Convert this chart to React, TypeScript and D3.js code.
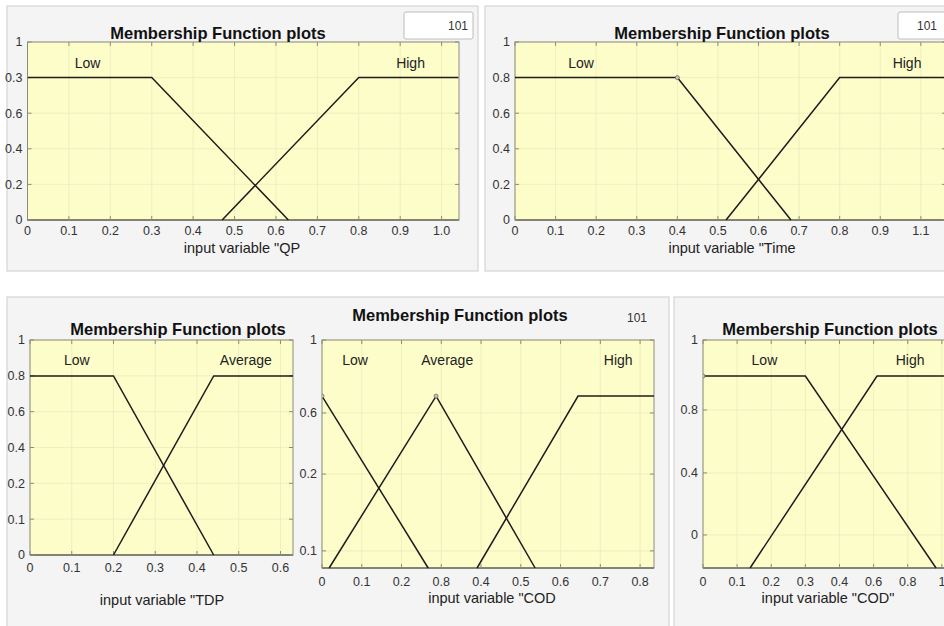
import React from "react";
import * as d3 from "d3";

// ---- data (x in axis-position units, y as fraction of axis height) ----
const qpXTickLabels = ["0", "0.1", "0.2", "0.3", "0.4", "0.5", "0.6", "0.7", "0.8", "0.9", "1.0"];
const qpYTickLabels = ["0", "0.2", "0.4", "0.6", "0.3", "1"];
const qpYTickPos = [0, 0.2, 0.4, 0.6, 0.8, 1];
const qpLow: [number, number][] = [[0, 0.8], [0.3, 0.8], [0.63, 0]];
const qpHigh: [number, number][] = [[0.47, 0], [0.8, 0.8], [1.04, 0.8]];

const timeXTickLabels = ["0", "0.1", "0.2", "0.3", "0.4", "0.5", "0.6", "0.7", "0.8", "0.9", "1.1"];
const timeYTickLabels = ["0", "0.2", "0.4", "0.6", "0.8", "1"];
const timeYTickPos = [0, 0.2, 0.4, 0.6, 0.8, 1];
const timeLow: [number, number][] = [[0, 0.8], [0.4, 0.8], [0.68, 0]];
const timeHigh: [number, number][] = [[0.52, 0], [0.8, 0.8], [1.08, 0.8]];

const tdpXTickLabels = ["0", "0.1", "0.2", "0.3", "0.4", "0.5", "0.6"];
const tdpYTickLabels = ["0", "0.1", "0.2", "0.4", "0.6", "0.8", "1"];
const tdpYTickPos = [0, 1 / 6, 2 / 6, 3 / 6, 4 / 6, 5 / 6, 1];
const tdpLow: [number, number][] = [[0, 0.833], [0.2, 0.833], [0.44, 0]];
const tdpAverage: [number, number][] = [[0.2, 0], [0.44, 0.833], [0.63, 0.833]];

const codXTickLabels = ["0", "0.1", "0.2", "0.8", "0.4", "0.5", "0.6", "0.7", "0.8"];
const codYTickLabels = ["0.1", "0.2", "0.6", "1"];
const codYTickPos = [0.075, 0.412, 0.68, 1];
const codLow: [number, number][] = [[0, 0.754], [0.267, 0]];
const codAverage: [number, number][] = [[0.018, 0], [0.287, 0.754], [0.536, 0]];
const codHigh: [number, number][] = [[0.39, 0], [0.644, 0.754], [0.835, 0.754]];

const cod2XTickLabels = ["0", "0.1", "0.2", "0.3", "0.4", "0.6", "0.8", "1"];
const cod2YTickLabels = ["0", "0.4", "0.8", "1"];
const cod2YTickPos = [0.145, 0.417, 0.693, 1];
const cod2Low: [number, number][] = [[0, 0.842], [0.3, 0.842], [0.683, 0]];
const cod2High: [number, number][] = [[0.138, 0], [0.51, 0.842], [0.74, 0.842]];

// ---- layout ----
const FONT = "'Liberation Sans', Arial, Helvetica, sans-serif";
const AX_FILL = "#fdfdca";
const AX_STROKE = "#8c8c7c";
const GRID = "#ebebbd";

type MF = { name: string; pts: [number, number][]; lx: number; markers?: number[] };
type Panel = {
  left: number; right: number; top: number; bottom: number;
  xMax: number; xTickLabels: string[];
  yTickPos: number[]; yTickLabels: string[];
  mfs: MF[];
  titleX: number; titleY: number;
  xlabel: string; xlabelX: number; xlabelY: number;
  tickLabelDy: number; mfLabelDy: number;
};

const panels: Panel[] = [
  {
    left: 27.5, right: 459, top: 42, bottom: 220, xMax: 1.042, xTickLabels: qpXTickLabels,
    yTickPos: qpYTickPos, yTickLabels: qpYTickLabels,
    mfs: [{ name: "Low", pts: qpLow, lx: 0.145 }, { name: "High", pts: qpHigh, lx: 0.925 }],
    titleX: 218, titleY: 39, xlabel: 'input variable "QP', xlabelX: 242, xlabelY: 253,
    tickLabelDy: 15, mfLabelDy: 26,
  },
  {
    left: 515, right: 946, top: 42, bottom: 220, xMax: 1.062, xTickLabels: timeXTickLabels,
    yTickPos: timeYTickPos, yTickLabels: timeYTickLabels,
    mfs: [{ name: "Low", pts: timeLow, lx: 0.163, markers: [1] }, { name: "High", pts: timeHigh, lx: 0.966 }],
    titleX: 722, titleY: 39, xlabel: 'input variable "Time', xlabelX: 732, xlabelY: 253,
    tickLabelDy: 15, mfLabelDy: 26,
  },
  {
    left: 30, right: 293, top: 340, bottom: 555, xMax: 0.63, xTickLabels: tdpXTickLabels,
    yTickPos: tdpYTickPos, yTickLabels: tdpYTickLabels,
    mfs: [{ name: "Low", pts: tdpLow, lx: 0.112 }, { name: "Average", pts: tdpAverage, lx: 0.517 }],
    titleX: 178, titleY: 335, xlabel: 'input variable "TDP', xlabelX: 162, xlabelY: 605,
    tickLabelDy: 17, mfLabelDy: 25,
  },
  {
    left: 322, right: 654, top: 340, bottom: 568, xMax: 0.835, xTickLabels: codXTickLabels,
    yTickPos: codYTickPos, yTickLabels: codYTickLabels,
    mfs: [
      { name: "Low", pts: codLow, lx: 0.083, markers: [0] },
      { name: "Average", pts: codAverage, lx: 0.315, markers: [1] },
      { name: "High", pts: codHigh, lx: 0.745 },
    ],
    titleX: 460, titleY: 321, xlabel: 'input variable "COD', xlabelX: 492, xlabelY: 603,
    tickLabelDy: 18, mfLabelDy: 25,
  },
  {
    left: 703, right: 948, top: 340, bottom: 568, xMax: 0.718, xTickLabels: cod2XTickLabels,
    yTickPos: cod2YTickPos, yTickLabels: cod2YTickLabels,
    mfs: [{ name: "Low", pts: cod2Low, lx: 0.18, markers: [0] }, { name: "High", pts: cod2High, lx: 0.607 }],
    titleX: 830, titleY: 335, xlabel: 'input variable "COD"', xlabelX: 828, xlabelY: 603,
    tickLabelDy: 18, mfLabelDy: 25,
  },
];

function Axes({ p, idx }: { p: Panel; idx: number }) {
  const x = d3.scaleLinear().domain([0, p.xMax]).range([p.left, p.right]);
  const y = d3.scaleLinear().domain([0, 1]).range([p.bottom, p.top]);
  const line = d3.line<[number, number]>().x((d) => x(d[0])).y((d) => y(d[1]));
  const xTicks = p.xTickLabels.map((_, i) => i / 10);
  const clipId = `clip-${idx}`;
  return (
    <g>
      <defs>
        <clipPath id={clipId}>
          <rect x={p.left} y={p.top - 3} width={p.right - p.left} height={p.bottom - p.top + 4} />
        </clipPath>
      </defs>
      <rect x={p.left} y={p.top} width={p.right - p.left} height={p.bottom - p.top} fill={AX_FILL} />
      {xTicks.map((t, i) => (
        <line key={`gx${i}`} x1={x(t)} x2={x(t)} y1={p.top} y2={p.bottom} stroke={GRID} strokeWidth={0.8} />
      ))}
      {p.yTickPos.map((t, i) => (
        <line key={`gy${i}`} x1={p.left} x2={p.right} y1={y(t)} y2={y(t)} stroke={GRID} strokeWidth={0.8} />
      ))}
      <rect x={p.left} y={p.top} width={p.right - p.left} height={p.bottom - p.top} fill="none" stroke={AX_STROKE} strokeWidth={1} />
      <line x1={p.left} x2={p.right} y1={p.bottom} y2={p.bottom} stroke="#6e6e62" strokeWidth={1.3} />
      {xTicks.map((t, i) => (
        <g key={`tx${i}`}>
          <line x1={x(t)} x2={x(t)} y1={p.bottom} y2={p.bottom - 4} stroke={AX_STROKE} />
          <line x1={x(t)} x2={x(t)} y1={p.top} y2={p.top + 4} stroke={AX_STROKE} />
          <text x={x(t)} y={p.bottom + p.tickLabelDy} textAnchor="middle" fontSize={12.5} fill="#333">
            {p.xTickLabels[i]}
          </text>
        </g>
      ))}
      {p.yTickPos.map((t, i) => (
        <g key={`ty${i}`}>
          <line x1={p.left} x2={p.left + 4} y1={y(t)} y2={y(t)} stroke={AX_STROKE} />
          <line x1={p.right} x2={p.right - 4} y1={y(t)} y2={y(t)} stroke={AX_STROKE} />
          <text x={p.left - 5} y={y(t)} dy="0.35em" textAnchor="end" fontSize={12.5} fill="#333">
            {p.yTickLabels[i]}
          </text>
        </g>
      ))}
      <g clipPath={`url(#${clipId})`}>
        {p.mfs.map((mf, i) => (
          <path key={`mf${i}`} d={line(mf.pts) || ""} fill="none" stroke="#1c1c1c" strokeWidth={1.5} />
        ))}
        {p.mfs.map((mf, i) =>
          (mf.markers || []).map((m, j) => (
            <circle key={`mk${i}-${j}`} cx={x(mf.pts[m][0])} cy={y(mf.pts[m][1])} r={2} fill="#c8c8b4" stroke="#6a6a6a" strokeWidth={0.8} />
          ))
        )}
      </g>
      {p.mfs.map((mf, i) => (
        <text key={`ml${i}`} x={x(mf.lx)} y={p.top + p.mfLabelDy} textAnchor="middle" fontSize={14} fill="#222">
          {mf.name}
        </text>
      ))}
      <text x={p.titleX} y={p.titleY} textAnchor="middle" fontSize={16.5} fontWeight="bold" fill="#111">
        Membership Function plots
      </text>
      <text x={p.xlabelX} y={p.xlabelY} textAnchor="middle" fontSize={14.5} fill="#222">
        {p.xlabel}
      </text>
    </g>
  );
}

export default function App() {
  return (
    <svg
      width={944}
      height={626}
      style={{ position: "absolute", left: 0, top: 0, background: "#ffffff", fontFamily: FONT }}
    >
      {/* window panels */}
      <rect x={7} y={6} width={471} height={265} fill="#f4f4f4" stroke="#d4d4d4" strokeWidth={1.2} />
      <rect x={485} y={6} width={470} height={265} fill="#f4f4f4" stroke="#d4d4d4" strokeWidth={1.2} />
      <rect x={7} y={297} width={662} height={340} fill="#f4f4f4" stroke="#d4d4d4" strokeWidth={1.2} />
      <rect x={674} y={297} width={280} height={340} fill="#f4f4f4" stroke="#d4d4d4" strokeWidth={1.2} />

      {/* number boxes */}
      <rect x={404} y={12} width={69} height={27} fill="#ffffff" stroke="#bdbdbd" rx={2} />
      <text x={468} y={30} textAnchor="end" fontSize={12} fill="#333">101</text>
      <rect x={898} y={12} width={70} height={27} fill="#ffffff" stroke="#bdbdbd" rx={2} />
      <text x={917} y={30} fontSize={12} fill="#333">101</text>
      <text x={637} y={322} textAnchor="middle" fontSize={12} fill="#333">101</text>

      {panels.map((p, i) => (
        <Axes key={i} p={p} idx={i} />
      ))}
    </svg>
  );
}
